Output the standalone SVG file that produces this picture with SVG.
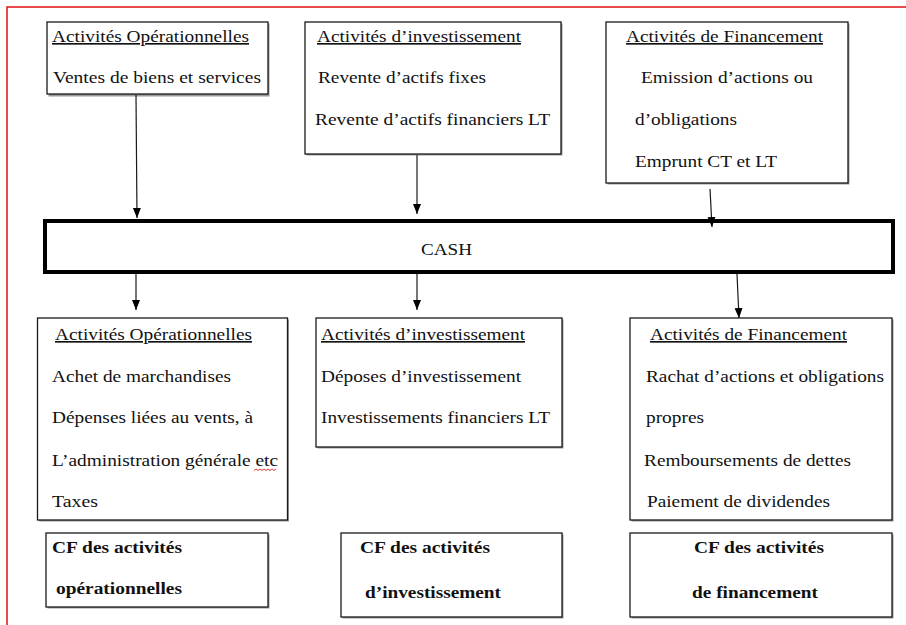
<svg xmlns="http://www.w3.org/2000/svg" width="906" height="625" viewBox="0 0 906 625">
<style>
  .frame { fill: none; stroke: #e01010; stroke-width: 1.5; }
  .box { fill: #fff; stroke: #1a1a1a; stroke-width: 1.3; }
  .shadow { fill: #9a9a9a; }
  .cash { fill: #fff; stroke: #000; stroke-width: 4; }
  .t { font-family: "Liberation Serif", "Times New Roman", serif; font-size: 16.5px; fill: #111; }
  .h { text-decoration: underline; }
  .b { font-weight: bold; }
  .conn { stroke: #1a1a1a; stroke-width: 1.2; fill: none; marker-end: url(#arr); }
</style>
<defs>
  <marker id="arr" markerUnits="userSpaceOnUse" markerWidth="10" markerHeight="10" viewBox="0 0 10 10" refX="10" refY="5" orient="auto">
    <path d="M0,1 L10,5 L0,9 Z" fill="#000"/>
  </marker>
</defs>
<rect width="906" height="625" fill="#fff"/>
<path class="frame" d="M7,625 L7,7 L906,7"/>

<g id="op-in">
  <rect class="shadow" x="48.5" y="23.5" width="221" height="73"/>
  <rect class="box" x="47" y="22" width="221" height="72"/>
  <text class="t h" x="52" y="42" textLength="197" lengthAdjust="spacingAndGlyphs">Activités Opérationnelles</text>
  <text class="t" x="53" y="83" textLength="208" lengthAdjust="spacingAndGlyphs">Ventes de biens et services</text>
</g>

<g id="inv-in">
  <rect class="shadow" x="306.5" y="23.5" width="256" height="132"/>
  <rect class="box" x="305" y="22" width="256" height="132"/>
  <text class="t h" x="317" y="42" textLength="204" lengthAdjust="spacingAndGlyphs">Activités d’investissement</text>
  <text class="t" x="318" y="83" textLength="168" lengthAdjust="spacingAndGlyphs">Revente d’actifs fixes</text>
  <text class="t" x="315" y="125" textLength="235" lengthAdjust="spacingAndGlyphs">Revente d’actifs financiers LT</text>
</g>

<g id="fin-in">
  <rect class="shadow" x="607.5" y="23.5" width="242" height="161"/>
  <rect class="box" x="606" y="22" width="242" height="161"/>
  <text class="t h" x="626" y="42" textLength="197" lengthAdjust="spacingAndGlyphs">Activités de Financement</text>
  <text class="t" x="641" y="83" textLength="172" lengthAdjust="spacingAndGlyphs">Emission d’actions ou</text>
  <text class="t" x="635" y="125" textLength="102" lengthAdjust="spacingAndGlyphs">d’obligations</text>
  <text class="t" x="635" y="167" textLength="142" lengthAdjust="spacingAndGlyphs">Emprunt CT et LT</text>
</g>

<g id="cash">
  <rect class="cash" x="45" y="221" width="848" height="51"/>
  <text class="t" x="421" y="255" textLength="51" lengthAdjust="spacingAndGlyphs">CASH</text>
</g>

<g id="op-out">
  <rect class="shadow" x="39" y="319.5" width="250" height="202"/>
  <rect class="box" x="37.5" y="318" width="250" height="202"/>
  <text class="t h" x="55" y="340" textLength="197" lengthAdjust="spacingAndGlyphs">Activités Opérationnelles</text>
  <text class="t" x="52" y="382" textLength="179" lengthAdjust="spacingAndGlyphs">Achet de marchandises</text>
  <text class="t" x="52" y="423" textLength="201" lengthAdjust="spacingAndGlyphs">Dépenses liées au vents, à</text>
  <text class="t" x="52" y="466" textLength="226" lengthAdjust="spacingAndGlyphs">L’administration générale etc</text>
  <path d="M254,470.5 l2,-1.5 l2,1.5 l2,-1.5 l2,1.5 l2,-1.5 l2,1.5 l2,-1.5 l2,1.5 l2,-1.5 l2,1.5 l2,-1.5" fill="none" stroke="#e02020" stroke-width="0.9"/>
  <text class="t" x="52" y="507" textLength="46" lengthAdjust="spacingAndGlyphs">Taxes</text>
</g>

<g id="inv-out">
  <rect class="shadow" x="317.5" y="319.5" width="246" height="129"/>
  <rect class="box" x="316" y="318" width="246" height="129"/>
  <text class="t h" x="321" y="340" textLength="204" lengthAdjust="spacingAndGlyphs">Activités d’investissement</text>
  <text class="t" x="321" y="382" textLength="200" lengthAdjust="spacingAndGlyphs">Déposes d’investissement</text>
  <text class="t" x="321" y="423" textLength="229" lengthAdjust="spacingAndGlyphs">Investissements financiers LT</text>
</g>

<g id="fin-out">
  <rect class="shadow" x="631.5" y="319.5" width="262" height="202"/>
  <rect class="box" x="630" y="318" width="262" height="202"/>
  <text class="t h" x="650" y="340" textLength="197" lengthAdjust="spacingAndGlyphs">Activités de Financement</text>
  <text class="t" x="646" y="382" textLength="238" lengthAdjust="spacingAndGlyphs">Rachat d’actions et obligations</text>
  <text class="t" x="646" y="423" textLength="58" lengthAdjust="spacingAndGlyphs">propres</text>
  <text class="t" x="644" y="466" textLength="207" lengthAdjust="spacingAndGlyphs">Remboursements de dettes</text>
  <text class="t" x="647" y="507" textLength="183" lengthAdjust="spacingAndGlyphs">Paiement de dividendes</text>
</g>

<g id="cf-op">
  <rect class="shadow" x="47.5" y="534.5" width="222" height="74"/>
  <rect class="box" x="46" y="533" width="222" height="74"/>
  <text class="t b" x="52" y="553" textLength="130" lengthAdjust="spacingAndGlyphs">CF des activités</text>
  <text class="t b" x="56" y="594" textLength="126" lengthAdjust="spacingAndGlyphs">opérationnelles</text>
</g>

<g id="cf-inv">
  <rect class="shadow" x="342.5" y="534.5" width="221" height="84"/>
  <rect class="box" x="341" y="533" width="221" height="84"/>
  <text class="t b" x="360" y="553" textLength="130" lengthAdjust="spacingAndGlyphs">CF des activités</text>
  <text class="t b" x="365" y="598" textLength="136" lengthAdjust="spacingAndGlyphs">d’investissement</text>
</g>

<g id="cf-fin">
  <rect class="shadow" x="631.5" y="534.5" width="262" height="84"/>
  <rect class="box" x="630" y="533" width="262" height="84"/>
  <text class="t b" x="694" y="553" textLength="130" lengthAdjust="spacingAndGlyphs">CF des activités</text>
  <text class="t b" x="692" y="598" textLength="126" lengthAdjust="spacingAndGlyphs">de financement</text>
</g>

<g id="connectors">
  <path class="conn" d="M136,95 L137,218"/>
  <path class="conn" d="M417,155 L417,214"/>
  <path class="conn" d="M710,189 L712,227"/>
  <path class="conn" d="M136,274 L136,310"/>
  <path class="conn" d="M417,274 L417,310"/>
  <path class="conn" d="M737,274 L739,318"/>
</g>
</svg>
